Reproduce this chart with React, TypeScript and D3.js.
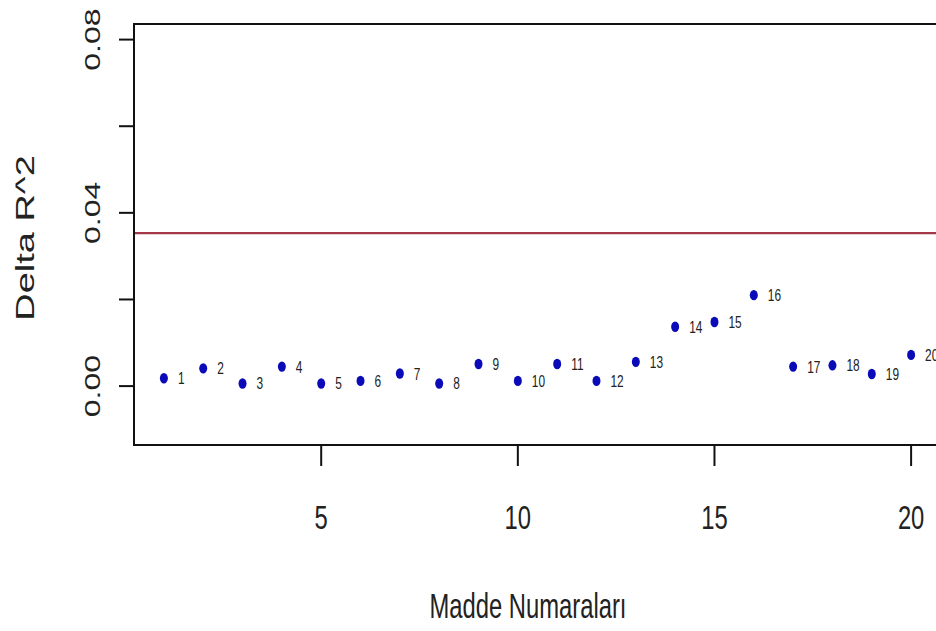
import * as d3 from "d3";
import React from "react";

// madde numaralari ve delta R^2 degerleri
const items = [1, 2, 3, 4, 5, 6, 7, 8, 9, 10, 11, 12, 13, 14, 15, 16, 17, 18, 19, 20];
const deltaR2 = [
  0.0018, 0.0041, 0.0006, 0.0045, 0.0006, 0.0012, 0.0029, 0.0006, 0.0051, 0.0012,
  0.0051, 0.0012, 0.0056, 0.0137, 0.0148, 0.021, 0.0045, 0.0048, 0.0028, 0.0072,
];
const cutoff = [0.0353];
const yTicks = [0, 0.02, 0.04, 0.06, 0.08];
const yTickLabels = ["0.00", "", "0.04", "", "0.08"];
const xTicks = [5, 10, 15, 20];

const W = 936;
const H = 631;
// plot box (right edge falls just outside the picture)
const box = { left: 134, top: 24, right: 941, bottom: 445 };
const FONT = "'Liberation Sans', Arial, sans-serif";
const SQ = 0.7; // yatay sikistirma

const App = () => {
  const x = d3.scaleLinear().domain([0.24, 20.76]).range([box.left, box.right]);
  const y = d3.scaleLinear().domain([-0.0136, 0.0836]).range([box.bottom, box.top]);

  return (
    <svg
      width={W}
      height={H}
      style={{ position: "absolute", left: 0, top: 0, background: "#fff" }}
    >
      {/* kesim cizgisi */}
      {cutoff.map((c, i) => (
        <line
          key={i}
          x1={box.left}
          x2={box.right}
          y1={y(c)}
          y2={y(c)}
          stroke="#a3384a"
          strokeWidth={2.2}
        />
      ))}

      {/* noktalar ve etiketler */}
      {items.map((it, i) => (
        <g key={it}>
          <ellipse cx={x(it)} cy={y(deltaR2[i])} rx={4} ry={5.2} fill="#0a0ab8" />
          <text
            transform={`translate(${x(it) + 14},${y(deltaR2[i]) + 6}) scale(${SQ},1)`}
            fontFamily={FONT}
            fontSize={17}
            fill="#222"
          >
            {it}
          </text>
        </g>
      ))}

      {/* kutu */}
      <rect
        x={box.left}
        y={box.top}
        width={box.right - box.left}
        height={box.bottom - box.top}
        fill="none"
        stroke="#111"
        strokeWidth={2}
      />

      {/* y ekseni */}
      {yTicks.map((t, i) => (
        <g key={t}>
          <line x1={box.left - 15} x2={box.left} y1={y(t)} y2={y(t)} stroke="#111" strokeWidth={2} />
          {yTickLabels[i] && (
            <text
              transform={`translate(100,${y(t)}) rotate(-90) scale(1,${SQ})`}
              textAnchor="middle"
              fontFamily={FONT}
              fontSize={32}
              fill="#222"
            >
              {yTickLabels[i]}
            </text>
          )}
        </g>
      ))}

      {/* x ekseni */}
      {xTicks.map((t) => (
        <g key={t}>
          <line x1={x(t)} x2={x(t)} y1={box.bottom} y2={box.bottom + 21} stroke="#111" strokeWidth={2} />
          <text
            transform={`translate(${x(t)},529) scale(${SQ},1)`}
            textAnchor="middle"
            fontFamily={FONT}
            fontSize={34}
            fill="#222"
          >
            {t}
          </text>
        </g>
      ))}

      {/* eksen basliklari */}
      <text
        transform={`translate(528,618) scale(0.68,1)`}
        textAnchor="middle"
        fontFamily={FONT}
        fontSize={35}
        fill="#222"
      >
        Madde Numaraları
      </text>
      <text
        transform={`translate(34,238) rotate(-90) scale(1,${SQ})`}
        textAnchor="middle"
        fontFamily={FONT}
        fontSize={38}
        fill="#222"
      >
        Delta R^2
      </text>
    </svg>
  );
};

export default App;
